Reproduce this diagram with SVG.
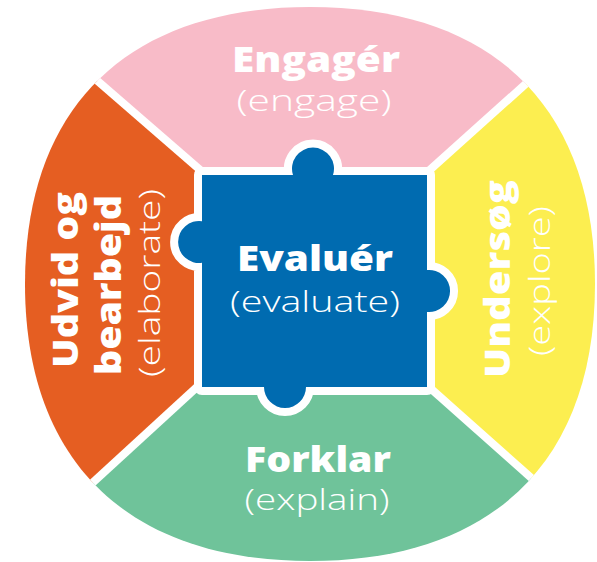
<svg xmlns="http://www.w3.org/2000/svg" width="597" height="562" viewBox="0 0 597 562">
  <defs>
    <clipPath id="disc">
      <path d="M595,284 C595,461.3 492.4,561 310,561 C127.6,561 25,461.3 25,284 C25,106.7 127.6,7 310,7 C492.4,7 595,106.7 595,284 Z"/>
    </clipPath>
    <style>
      .t { fill: #ffffff; font-family: "Open Sans", "Liberation Sans", sans-serif; text-anchor: middle; }
      .b { font-weight: 800; font-size: 35px; }
      .l { font-weight: 300; font-size: 30px; }
      .gap { stroke: #ffffff; stroke-width: 8; fill: none; }
    </style>
  </defs>
  <rect width="597" height="562" fill="#ffffff"/>
  <g clip-path="url(#disc)">
    <g id="engage">
      <polygon points="210,178.4 -20,-21 640,-18.8 420,178.8" fill="#F8BBC8"/>
    </g>
    <g id="explore">
      <polygon points="420,178.8 640,-18.8 640,574.5 418,377.3" fill="#FCEE50"/>
    </g>
    <g id="explain">
      <polygon points="418,377.3 640,574.5 -20,586 209,376" fill="#6FC39A"/>
    </g>
    <g id="elaborate">
      <polygon points="209,376 -20,586 -20,-21 210,178.4" fill="#E55E22"/>
    </g>
    <g id="connectors">
      <line class="gap" x1="210" y1="178.4" x2="-20" y2="-21"/>
      <line class="gap" x1="420" y1="178.8" x2="640" y2="-18.8"/>
      <line class="gap" x1="418" y1="377.3" x2="640" y2="574.5"/>
      <line class="gap" x1="209" y1="376" x2="-20" y2="586"/>
    </g>
  </g>
  <g id="evaluate">
    <path d="M202,175 H293 A21,21 0 1 1 333,175 H427 V270.1 A21,21 0 1 1 427,311.9 V387 H306 A21,21 0 1 1 264,387 H202 V262.8 A21,21 0 1 1 202,221.2 Z" fill="#006BB0" stroke="#ffffff" stroke-width="16" stroke-linejoin="round" paint-order="stroke"/>
    <text class="t b" x="315" y="271" textLength="156" lengthAdjust="spacingAndGlyphs">Evaluér</text>
    <text class="t l" x="315" y="312" textLength="170" lengthAdjust="spacingAndGlyphs">(evaluate)</text>
  </g>
  <g id="engage-text">
    <text class="t b" x="316" y="72" textLength="168" lengthAdjust="spacingAndGlyphs">Engagér</text>
    <text class="t l" x="314" y="111" textLength="155" lengthAdjust="spacingAndGlyphs">(engage)</text>
  </g>
  <g id="explain-text">
    <text class="t b" x="318" y="472" textLength="146" lengthAdjust="spacingAndGlyphs">Forklar</text>
    <text class="t l" x="317" y="510" textLength="145" lengthAdjust="spacingAndGlyphs">(explain)</text>
  </g>
  <g id="elaborate-text">
    <text class="t b" transform="translate(78,280) rotate(-90)" x="0" y="0" textLength="176" lengthAdjust="spacingAndGlyphs">Udvid og</text>
    <text class="t b" transform="translate(121,285) rotate(-90)" x="0" y="0" textLength="180" lengthAdjust="spacingAndGlyphs">bearbejd</text>
    <text class="t l" transform="translate(160,283) rotate(-90)" x="0" y="0" textLength="188" lengthAdjust="spacingAndGlyphs">(elaborate)</text>
  </g>
  <g id="explore-text">
    <text class="t b" transform="translate(510,279) rotate(-90)" x="0" y="0" textLength="198" lengthAdjust="spacingAndGlyphs">Undersøg</text>
    <text class="t l" transform="translate(550,281) rotate(-90)" x="0" y="0" textLength="150" lengthAdjust="spacingAndGlyphs">(explore)</text>
  </g>
</svg>
